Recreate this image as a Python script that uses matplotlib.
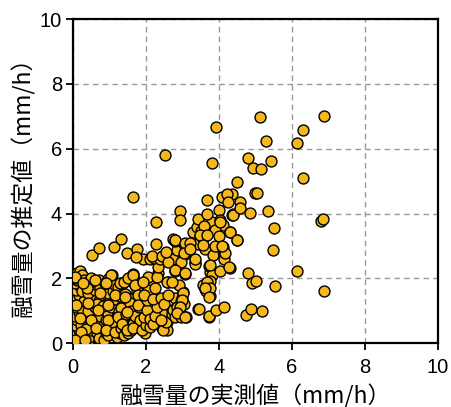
import matplotlib
matplotlib.use("Agg")
import matplotlib.pyplot as plt

pts = [
    # dense cluster near origin
    (0.05,0.05),(0.10,0.15),(0.05,0.30),(0.15,0.40),(0.05,0.55),(0.12,0.70),(0.05,0.85),(0.15,0.95),
    (0.07,1.10),(0.12,1.25),(0.05,1.40),(0.15,1.50),(0.08,1.65),(0.20,1.75),(0.05,1.85),(0.12,1.95),
    (0.18,2.05),(0.10,2.15),(0.20,2.22),(0.25,2.10),(0.30,1.95),(0.05,2.00),(0.25,0.10),(0.30,0.25),
    (0.22,0.55),(0.28,0.80),(0.25,1.05),(0.30,1.30),(0.25,1.60),(0.35,1.85),
    (0.40,0.05),(0.45,0.20),(0.50,0.40),(0.40,0.60),(0.46,0.70),(0.55,0.90),(0.40,1.00),(0.60,1.10),
    (0.45,1.25),(0.55,1.40),(0.40,1.55),(0.59,1.63),(0.59,1.83),(0.45,1.85),(0.50,2.00),(0.70,1.95),
    (0.65,0.30),(0.70,0.15),(0.60,0.55),(0.73,0.49),(0.70,0.75),(0.73,0.85),(0.75,1.05),(0.70,1.30),
    (0.80,1.50),(0.75,1.70),(0.82,1.47),(0.65,1.20),(0.35,0.45),(0.38,1.70),
    (0.85,0.10),(0.90,0.30),(0.96,0.24),(0.85,0.55),(1.00,0.45),(0.90,0.70),(1.01,0.75),(0.95,0.90),
    (1.05,1.11),(0.90,1.20),(0.82,1.16),(1.00,1.30),(0.95,1.55),(1.10,1.60),(0.96,1.99),(1.07,2.11),
    (1.15,1.80),(0.88,1.85),(1.20,0.20),(1.15,0.40),(1.25,0.55),(1.10,0.65),(1.20,0.85),(1.25,1.00),
    (1.15,1.35),(1.24,1.73),(1.33,1.83),(1.33,1.16),(1.30,1.45),(1.30,0.30),
    (0.05,2.04),(0.27,1.85),(0.60,1.94),(1.04,2.10),(0.90,1.85),(1.29,1.85),(0.74,1.54),(1.15,1.48),
    (0.08,1.17),(0.41,1.23),(0.96,1.17),(0.68,1.02),(1.32,1.08),(0.49,0.71),(0.96,0.71),(1.23,0.80),
    (0.22,0.34),(0.63,0.46),(0.90,0.40),(1.15,0.34),(0.05,0.09),(0.33,0.09),(1.32,0.46),(0.19,0.77),
    # base of lower arm
    (1.40,0.25),(1.46,0.45),(1.51,0.31),(1.46,0.70),(1.42,1.52),(1.45,0.90),(1.55,0.55),(1.60,0.40),
    (1.65,0.60),(1.69,1.42),(1.69,1.78),(1.65,2.14),(1.65,2.05),(1.55,1.25),(1.60,1.00),(1.70,0.85),
    (1.75,0.50),(1.83,0.65),(1.80,1.10),(1.75,1.60),(1.85,1.30),(1.40,1.90),(1.50,2.00),(1.35,0.60),
    (1.64,2.10),(1.70,1.79),(2.16,1.88),(2.60,1.88),(2.33,2.16),(1.42,1.42),(1.78,1.48),(2.16,1.39),
    (2.05,1.11),(1.78,1.17),(2.47,0.96),(2.71,1.02),(1.48,0.96),(1.84,0.71),(2.16,0.65),(2.58,0.65),
    (1.48,0.40),(1.64,0.46),(2.58,0.40),(2.44,0.46),(1.97,0.31),(2.79,1.39),
    # lower arm
    (1.90,0.40),(2.00,0.55),(2.10,0.49),(1.95,0.80),(2.03,1.01),(2.10,0.75),(2.03,1.32),(2.06,1.63),
    (2.06,2.04),(1.95,1.50),(1.92,1.90),(2.20,0.60),(2.25,0.85),(2.30,1.10),(2.20,1.35),(2.31,2.04),
    (2.34,2.35),(2.25,1.70),(2.42,1.39),(2.47,0.39),(2.56,0.65),(2.40,0.70),(2.50,1.20),(2.58,1.88),
    (2.60,1.50),(2.70,0.90),(2.74,1.01),(2.84,1.11),(2.80,0.80),(2.90,1.00),(2.96,0.80),(3.09,0.80),
    (3.04,1.21),(2.99,1.39),(3.02,1.57),(2.95,1.30),(2.79,2.24),(3.07,2.12),(2.90,1.80),(2.70,1.90),
    (3.01,1.54),(2.99,1.33),(2.93,1.11),(2.85,0.93),(3.07,0.80),(3.42,1.05),(3.73,0.80),
    # middle
    (1.92,2.60),(2.10,2.60),(2.22,2.63),(2.38,2.60),(2.28,3.07),(2.15,2.70),(2.45,2.70),(2.74,2.60),
    (2.84,2.86),(2.74,3.22),(2.79,3.15),(3.04,3.07),(3.08,2.76),(2.95,2.50),(2.60,2.50),(2.55,2.80),
    (2.79,3.18),(3.07,3.08),(3.04,2.77),(3.34,2.50),(2.79,2.25),(3.07,2.16),
    # upper arm
    (3.34,2.45),(3.34,2.60),(3.30,3.43),(3.39,3.58),(3.43,3.84),(3.48,3.32),(3.50,3.45),(3.66,3.37),
    (3.43,3.07),(3.61,2.91),(3.84,2.71),(4.09,2.96),(4.14,2.76),(4.14,2.60),(3.80,3.73),(3.68,3.99),
    (3.99,4.10),(4.03,3.80),(4.10,3.65),(4.29,3.43),(4.48,3.19),(4.36,3.96),(3.75,2.20),(3.73,2.37),
    (3.80,2.09),(3.75,1.93),(3.57,1.78),(3.61,1.68),(3.75,1.44),(3.65,1.60),(4.03,2.22),(4.29,2.33),
    (3.90,3.00),(3.55,3.20),(3.20,3.10),(3.20,2.90),(3.60,3.60),(3.90,3.50),(4.00,3.30),
    (3.48,3.33),(3.67,3.33),(3.56,3.02),(4.11,2.97),(4.16,2.77),(3.75,2.40),(4.27,2.35),(3.67,1.88),
    (3.75,1.70),(3.62,1.70),(3.73,1.42),(4.03,3.73),(4.38,3.98),(4.08,2.99),(4.30,3.43),(4.49,3.18),
    (4.35,4.60),(4.39,3.95),
    # scattered points
    (6.89,7.01),(5.12,6.99),(3.93,6.66),(6.30,6.58),(6.13,6.17),(5.29,6.23),(2.53,5.81),(3.82,5.55),
    (4.79,5.70),(4.94,5.40),(5.15,5.36),(5.43,5.61),(6.30,5.09),(4.49,4.97),(4.98,4.63),(5.04,4.63),
    (1.63,4.50),(3.68,4.41),(4.09,4.51),(4.21,4.61),(4.25,4.35),(4.58,4.35),(4.58,4.18),(4.84,4.02),
    (5.33,4.08),(2.94,4.08),(2.94,3.81),(2.28,3.74),(5.50,3.56),(6.80,3.78),(6.85,3.82),(5.49,2.86),
    (6.13,2.22),(6.89,1.60),(5.54,1.75),(4.79,2.17),(4.90,1.85),(5.02,1.92),(4.73,0.88),(4.88,1.06),
    (5.19,0.98),(3.73,0.84),(3.93,1.01),(4.14,1.12),(3.44,1.04),(0.52,2.73),(0.72,2.93),(1.13,2.98),
    (1.32,3.21),(1.47,2.79),(1.74,2.89),(1.73,2.67),
]
measured = [p[0] for p in pts]
estimated = [p[1] for p in pts]

ticks = [0, 2, 4, 6, 8, 10]
xlabel = "融雪量の実測値（mm/h）"
ylabel = "融雪量の推定値（mm/h）"

fig = plt.figure(figsize=(4.51, 4.07), dpi=100)
ax = fig.add_axes([0.162, 0.157, 0.809, 0.796])

ax.scatter(measured, estimated, s=62, facecolor="#F5B81C", edgecolor="black",
           linewidth=1.0, zorder=3)

ax.set_xlim(0, 10)
ax.set_ylim(0, 10)
ax.set_xticks(ticks)
ax.set_yticks(ticks)
ax.grid(True, linestyle=(0, (4, 3)), color="#9a9a9a", linewidth=1.0, zorder=0)
ax.set_axisbelow(True)
for s in ax.spines.values():
    s.set_linewidth(1.6)
    s.set_color("black")
ax.tick_params(direction="out", length=5, width=1.3, labelsize=14.5, pad=3)
ax.tick_params(axis="x", pad=6)
for lab in ax.get_xticklabels() + ax.get_yticklabels():
    lab.set_family(["Liberation Sans", "Noto Sans CJK JP"])

fam = ["Noto Sans CJK JP", "DejaVu Sans"]
ax.set_xlabel(xlabel, fontsize=16.5, family=fam, labelpad=5)
ax.set_ylabel(ylabel, fontsize=16.5, family=fam, labelpad=3)

fig.savefig("out.png", dpi=100)
